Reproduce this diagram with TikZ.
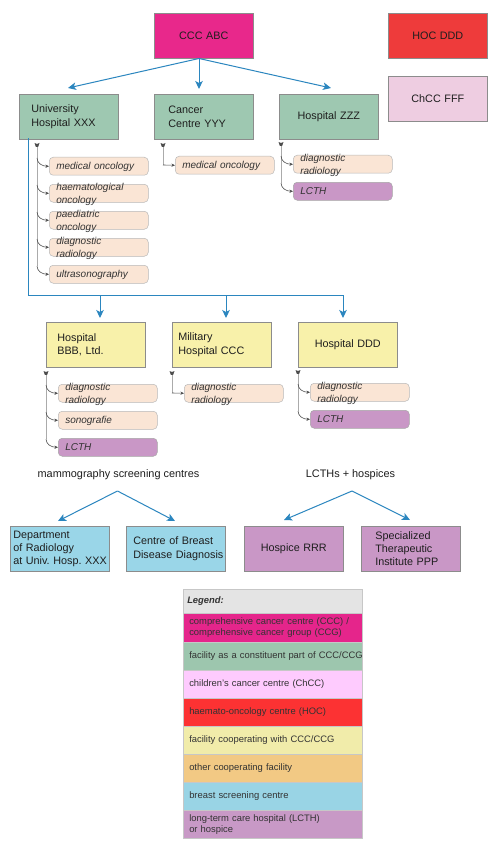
\documentclass[tikz,border=0pt]{standalone}
\usepackage{fontspec}
\setmainfont{Liberation Sans}
\usetikzlibrary{arrows.meta,calc}
\hyphenpenalty=10000
\exhyphenpenalty=10000
\definecolor{cccmag}{HTML}{E8288B}
\definecolor{hocred}{HTML}{EE3B3B}
\definecolor{chccpk}{HTML}{EECDE1}
\definecolor{partgr}{HTML}{9EC8B1}
\definecolor{coopyl}{HTML}{F8F1AA}
\definecolor{itempc}{HTML}{FAE5D5}
\definecolor{lcthpu}{HTML}{C997C6}
\definecolor{screenbl}{HTML}{9AD6E8}
\definecolor{lgray}{HTML}{E4E4E4}
\definecolor{lpink}{HTML}{FECBFE}
\definecolor{lred}{HTML}{FC3233}
\definecolor{lyel}{HTML}{F1ECAA}
\definecolor{lorange}{HTML}{F2C984}
\definecolor{lgreen}{HTML}{9DC6AE}
\definecolor{lmag}{HTML}{E5258B}
\definecolor{lblue}{HTML}{99D4E5}
\definecolor{lpurple}{HTML}{C899C6}
\definecolor{arrblue}{HTML}{2B86BF}
\definecolor{vgray}{HTML}{ABABAB}
\definecolor{brgray}{HTML}{4D4D4D}
\definecolor{bordc}{HTML}{8C8C8C}
\definecolor{txtc}{HTML}{1E1E1E}
\newcommand\twoln[2]{\raisebox{-0.7pt}[0pt][0pt]{\begin{tabular}[c]{@{}l@{}}#1\\#2\end{tabular}}}
\begin{document}
\begin{tikzpicture}[x=1pt,y=-1pt,
  nohy/.style={execute at begin node={\hyphenpenalty=10000\exhyphenpenalty=10000}},
  box/.style={nohy, draw=bordc, line width=0.6pt, anchor=north west, minimum height=45pt,
    inner ysep=2pt, font=\fontsize{10.8}{13.3}\selectfont, text=txtc, align=left},
  ctr/.style={inner xsep=4pt, text width=91pt, align=center},
  item/.style={nohy, draw=black!28, line width=0.5pt, rounded corners=4pt, anchor=north west,
    minimum height=18pt, inner ysep=0pt, inner xsep=7pt, text width=85pt, align=left,
    text height=7.5pt, text depth=1.5pt, font=\fontsize{10}{12.3}\selectfont\itshape,
    text=black!80},
  pc/.style={item, fill=itempc},
  pu/.style={item, fill=lcthpu, draw=black!35},
  lrow/.style={nohy, draw=black!22, line width=0.5pt, anchor=north west, minimum height=28pt,
    inner xsep=6pt, text width=167pt, align=left, inner ysep=1pt,
    font=\fontsize{9.4}{11}\selectfont, text=black!80},
  lbl/.style={font=\fontsize{10.9}{13}\selectfont, text=txtc, inner sep=0pt},
  bline/.style={draw=arrblue, line width=1pt},
  barr/.style={draw=arrblue, line width=1pt, -{Stealth[length=8pt,width=7.5pt,inset=2pt]}},
  vline/.style={draw=vgray, line width=1pt},
  br/.style={draw=brgray, line width=0.6pt, -{Stealth[length=3.5pt,width=3.2pt]}},
  mkr/.pic={\fill[brgray] (-2.5,-2) -- (0,-1) -- (2.5,-2) -- (1.2,1.8) -- (-1.2,1.8) -- cycle;}
]
\fill[white] (0,0) rectangle (495,853);
\useasboundingbox (0,0) rectangle (495,853);

% ---------- top row ----------
\node[box, ctr, fill=cccmag] (ccc) at (154,13) {CCC~ABC};
\node[box, ctr, fill=hocred] (hoc) at (388,13) {HOC~DDD};
\node[box, ctr, fill=chccpk] (chcc) at (388,76) {ChCC~FFF};

\node[box, fill=partgr, inner xsep=12pt, text width=75pt] (uh) at (19,94) {University\\Hospital~XXX};
\node[box, fill=partgr, inner xsep=14pt, text width=71pt] (cc) at (154,94) {Cancer\\Centre~YYY};
\node[box, ctr, fill=partgr] (hz) at (279,94) {Hospital~ZZZ};

\coordinate (c0) at (199,58.5);
\coordinate (t1) at (68,88);
\coordinate (t2) at (199,89);
\coordinate (t3) at (331,88);
\draw[barr] (c0) -- (t1);
\draw[barr] (c0) -- (t2);
\draw[barr] (c0) -- (t3);

% ---------- items row 1 ----------
\node[pc] (uh1) at (49,157) {medical~oncology};
\node[pc] (uh2) at (49,184) {\twoln{haematological}{oncology}};
\node[pc] (uh3) at (49,211) {\twoln{paediatric}{oncology}};
\node[pc] (uh4) at (49,238) {\twoln{diagnostic}{radiology}};
\node[pc] (uh5) at (49,265) {ultrasonography};

\node[pc] (cc1) at (175,156) {medical~oncology};

\node[pc] (hz1) at (293,155) {\twoln{diagnostic}{radiology}};
\node[pu] (hz2) at (293,182) {LCTH};

% Univ branches
\coordinate (uhm) at (37,145);
\coordinate (uhb1) at (37,158);
\coordinate (uhb2) at (37,185);
\coordinate (uhb3) at (37,212);
\coordinate (uhb4) at (37,239);
\coordinate (uhb5) at (37,266);
\draw[vline] (uhm) -- (uhb5);
\foreach \i in {1,...,5}{
  \draw[br] (uhb\i) .. controls +(0,5) and +(-7,0) .. (uh\i.west);
}
\pic at (uhm) {mkr};

% Cancer centre branch
\coordinate (ccm) at (163,145);
\coordinate (ccb1) at (163,165);
\draw[vline] (ccm) -- (ccb1);
\draw[br] (ccb1) -- (cc1.west);
\pic at (ccm) {mkr};

% Hospital ZZZ branches
\coordinate (hzm) at (281,144);
\coordinate (hzb1) at (281,156);
\coordinate (hzb2) at (281,183);
\draw[vline] (hzm) -- (hzb2);
\foreach \i in {1,2}{
  \draw[br] (hzb\i) .. controls +(0,5) and +(-7,0) .. (hz\i.west);
}
\pic at (hzm) {mkr};

% ---------- blue tree to row 2 ----------
\coordinate (u0) at (28,138.5);
\coordinate (hb) at (28,295);
\coordinate (d1) at (100,295);
\coordinate (d2) at (226,295);
\coordinate (d3) at (343,295);
\coordinate (e1) at (100,318);
\coordinate (e2) at (226,318);
\coordinate (e3) at (343,318);
\draw[bline] (u0) -- (hb) -- (d3);
\draw[barr] (d1) -- (e1);
\draw[barr] (d2) -- (e2);
\draw[barr] (d3) -- (e3);

% ---------- row 2 ----------
\node[box, fill=coopyl, inner xsep=11pt, text width=77pt] (bbb) at (46,322) {Hospital\\BBB,~Ltd.};
\node[box, fill=coopyl, inner xsep=6pt, text width=87pt] (mil) at (172,322) {Military\\Hospital~CCC};
\node[box, ctr, fill=coopyl] (ddd) at (298,322) {Hospital~DDD};

\node[pc] (bb1) at (58,384) {\twoln{diagnostic}{radiology}};
\node[pc] (bb2) at (58,411) {sonografie};
\node[pu] (bb3) at (58,438) {LCTH};

\node[pc] (mi1) at (184,384) {\twoln{diagnostic}{radiology}};

\node[pc] (dd1) at (310,383) {\twoln{diagnostic}{radiology}};
\node[pu] (dd2) at (310,410) {LCTH};

\coordinate (bbm) at (46,373);
\coordinate (bbb1) at (46,385);
\coordinate (bbb2) at (46,412);
\coordinate (bbb3) at (46,439);
\draw[vline] (bbm) -- (bbb3);
\foreach \i in {1,2,3}{
  \draw[br] (bbb\i) .. controls +(0,5) and +(-7,0) .. (bb\i.west);
}
\pic at (bbm) {mkr};

\coordinate (mim) at (172,373);
\coordinate (mib1) at (172,393);
\draw[vline] (mim) -- (mib1);
\draw[br] (mib1) -- (mi1.west);
\pic at (mim) {mkr};

\coordinate (ddm) at (298,372);
\coordinate (ddb1) at (298,384);
\coordinate (ddb2) at (298,411);
\draw[vline] (ddm) -- (ddb2);
\foreach \i in {1,2}{
  \draw[br] (ddb\i) .. controls +(0,5) and +(-7,0) .. (dd\i.west);
}
\pic at (ddm) {mkr};

% ---------- row 3 ----------
\node[lbl] (mam) at (118.5,474.5) {mammography screening centres};
\node[lbl] (lch) at (350.5,474.5) {LCTHs + hospices};

\coordinate (m0) at (117.5,491);
\coordinate (ma1) at (58,521);
\coordinate (ma2) at (175,521);
\coordinate (l0) at (352,491);
\coordinate (la1) at (284,520);
\coordinate (la2) at (410,520);
\draw[barr] (m0) -- (ma1);
\draw[barr] (m0) -- (ma2);
\draw[barr] (l0) -- (la1);
\draw[barr] (l0) -- (la2);

\node[box, fill=screenbl, inner xsep=3pt, text width=93pt] (dep) at (10,526) {Department\\of~Radiology\\at~Univ.~Hosp.~XXX};
\node[box, fill=screenbl, inner xsep=7pt, text width=85pt] (cbd) at (126,526) {Centre~of~Breast\\Disease~Diagnosis};
\node[box, ctr, fill=lcthpu] (rrr) at (244,526) {Hospice~RRR};
\node[box, fill=lcthpu, inner xsep=14pt, text width=71pt] (ppp) at (361,526) {Specialized\\Therapeutic\\Institute~PPP};

% ---------- legend ----------
\node[lrow, fill=lgray, minimum height=24pt, inner xsep=4pt, text width=171pt] (lg0) at (183,589) {\textbf{\textit{Legend:}}};
\node[lrow, fill=lmag, minimum height=29pt] (lg1) at (183,613) {comprehensive~cancer~centre~(CCC)~/\\comprehensive~cancer~group~(CCG)};
\node[lrow, fill=lgreen] (lg2) at (183,642) {facility~as~a~constituent~part~of~CCC/CCG};
\node[lrow, fill=lpink] (lg3) at (183,670) {children's~cancer~centre~(ChCC)};
\node[lrow, fill=lred] (lg4) at (183,698) {haemato-oncology~centre~(HOC)};
\node[lrow, fill=lyel] (lg5) at (183,726) {facility~cooperating~with~CCC/CCG};
\node[lrow, fill=lorange] (lg6) at (183,754) {other~cooperating~facility};
\node[lrow, fill=lblue] (lg7) at (183,782) {breast~screening~centre};
\node[lrow, fill=lpurple] (lg8) at (183,810) {long-term~care~hospital~(LCTH)\\or~hospice};
\end{tikzpicture}
\end{document}
